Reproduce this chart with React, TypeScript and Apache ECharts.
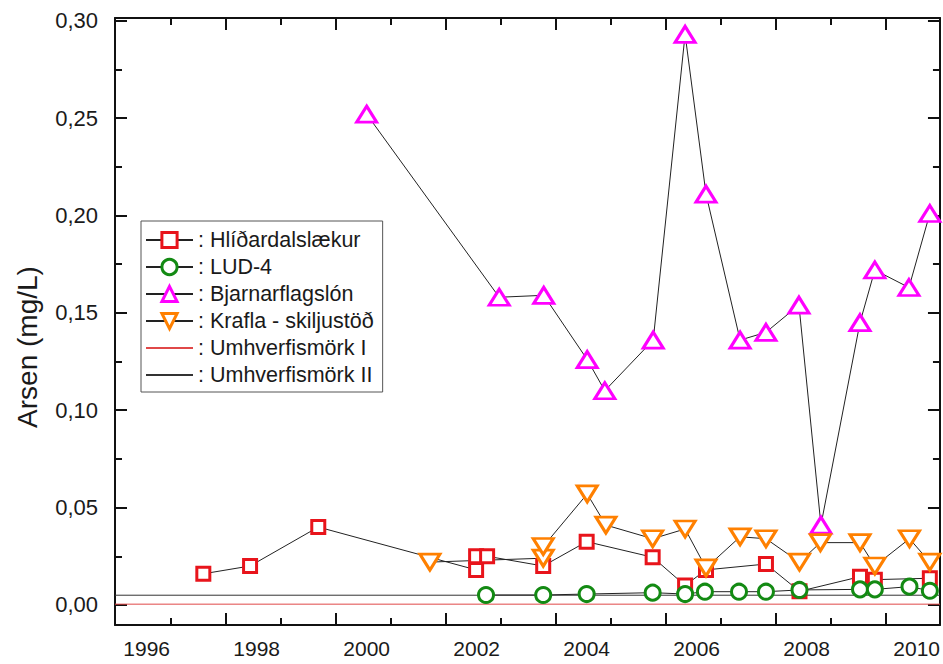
import React, { useEffect, useRef } from 'react';
import * as echarts from 'echarts';

const FONT = '"Liberation Sans", Arial, Helvetica, sans-serif';

// Axis extents (x expressed in decimal years)
const X_MIN = 1995.424;
const X_MAX = 2010.424;
const Y_MIN = -0.0103;
const Y_MAX = 0.3014;

// Tick labels and tick positions
const yearLabels = [1996, 1998, 2000, 2002, 2004, 2006, 2008, 2010];
const xMajorTicks = [1997.44, 1999.44, 2001.44, 2003.44, 2005.44, 2007.44, 2009.44];
const xMinorTicks = [1996.44, 1998.44, 2000.44, 2002.44, 2004.44, 2006.44, 2008.44];
const yLabels = [0, 0.05, 0.1, 0.15, 0.2, 0.25, 0.3];
const yMinorTicks = [0.025, 0.075, 0.125, 0.175, 0.225, 0.275];

// Series names
const seriesNames = [
  'Hlíðardalslækur',
  'LUD-4',
  'Bjarnarflagslón',
  'Krafla - skiljustöð',
  'Umhverfismörk I',
  'Umhverfismörk II',
];

// Hlíðardalslækur
const hlidYears = [1997.03, 1997.88, 1999.12, 2001.99, 2001.99, 2002.19, 2003.21, 2004.0, 2005.2, 2005.79, 2006.17, 2007.26, 2007.87, 2008.97, 2009.24, 2010.24];
const hlidValues = [0.016, 0.020, 0.040, 0.018, 0.025, 0.025, 0.020, 0.0325, 0.0245, 0.010, 0.018, 0.021, 0.007, 0.0145, 0.013, 0.0137];

// LUD-4
const ludYears = [2002.17, 2003.21, 2004.0, 2005.2, 2005.79, 2006.15, 2006.77, 2007.26, 2007.87, 2008.97, 2009.24, 2009.87, 2010.24];
const ludValues = [0.0051, 0.0051, 0.0056, 0.0063, 0.0056, 0.0068, 0.0068, 0.0068, 0.0077, 0.008, 0.008, 0.0094, 0.0073];

// Bjarnarflagslón
const bjarYears = [2000.0, 2002.41, 2003.22, 2004.01, 2004.33, 2005.21, 2005.79, 2006.17, 2006.79, 2007.26, 2007.86, 2008.26, 2008.97, 2009.24, 2009.86, 2010.24];
const bjarValues = [0.252, 0.158, 0.159, 0.126, 0.110, 0.136, 0.293, 0.211, 0.136, 0.140, 0.154, 0.041, 0.145, 0.172, 0.163, 0.201];

// Krafla - skiljustöð
const kraflaYears = [2001.15, 2003.21, 2003.21, 2004.01, 2004.35, 2005.2, 2005.79, 2006.17, 2006.79, 2007.26, 2007.87, 2008.25, 2008.97, 2009.24, 2009.87, 2010.24];
const kraflaValues = [0.022, 0.024, 0.030, 0.057, 0.041, 0.034, 0.039, 0.019, 0.035, 0.034, 0.022, 0.032, 0.032, 0.020, 0.034, 0.022];

// Limits
const limitI = 0.0004;
const limitII = 0.005;

const zip = (xs: number[], ys: number[]) => xs.map((x, i) => [x, ys[i]]);

const TEXT = '#1a1a1a';
const AXIS_COLOR = '#111';

function makeX(position: 'top' | 'bottom', ticks: number[], len: number, showLine: boolean, showLabel: boolean) {
  return {
    type: 'value',
    gridIndex: 0,
    min: X_MIN,
    max: X_MAX,
    position,
    splitLine: { show: false },
    axisLine: { show: showLine, onZero: false, lineStyle: { color: AXIS_COLOR, width: 2 } },
    axisTick: { show: true, inside: true, length: len, customValues: ticks, lineStyle: { color: AXIS_COLOR, width: 2 } },
    axisLabel: showLabel
      ? {
          show: true,
          customValues: yearLabels,
          margin: 13,
          fontSize: 21,
          fontFamily: FONT,
          color: TEXT,
          formatter: (v: number) => String(Math.round(v)),
        }
      : { show: false },
  };
}

function makeY(position: 'left' | 'right', ticks: number[], len: number, showLine: boolean, showLabel: boolean) {
  return {
    type: 'value',
    gridIndex: 0,
    min: Y_MIN,
    max: Y_MAX,
    position,
    splitLine: { show: false },
    axisLine: { show: showLine, onZero: false, lineStyle: { color: AXIS_COLOR, width: 2 } },
    axisTick: { show: true, inside: true, length: len, customValues: ticks, lineStyle: { color: AXIS_COLOR, width: 2 } },
    axisLabel: showLabel
      ? {
          show: true,
          customValues: yLabels,
          margin: 17,
          fontSize: 22,
          fontFamily: FONT,
          color: TEXT,
          formatter: (v: number) => v.toFixed(2).replace('.', ','),
        }
      : { show: false },
  };
}

function markerSeries(name: string, xs: number[], ys: number[], symbol: string, size: any, color: string, rotate = 0) {
  return {
    name,
    type: 'line',
    xAxisIndex: 0,
    yAxisIndex: 0,
    data: zip(xs, ys),
    symbol,
    symbolSize: size,
    symbolRotate: rotate,
    showSymbol: true,
    showAllSymbol: true,
    clip: false,
    itemStyle: { color: '#fff', borderColor: color, borderWidth: 3 },
    lineStyle: { color: '#222', width: 1 },
    emphasis: { disabled: true },
    z: 3,
  };
}

function limitSeries(name: string, value: number, color: string) {
  return {
    name,
    type: 'line',
    xAxisIndex: 0,
    yAxisIndex: 0,
    data: [
      [X_MIN, value],
      [X_MAX, value],
    ],
    symbol: 'none',
    itemStyle: { color: 'rgba(0,0,0,0)', borderWidth: 0 },
    lineStyle: { color, width: 1 },
    emphasis: { disabled: true },
    z: 2,
  };
}

export default function App() {
  const ref = useRef<HTMLDivElement>(null);

  useEffect(() => {
    if (!ref.current) return;
    const chart = echarts.init(ref.current, undefined, { renderer: 'svg' });
    chart.setOption({
      animation: false,
      backgroundColor: '#fff',
      grid: { left: 115, right: 3, top: 18, bottom: 39, containLabel: false },
      xAxis: [
        makeX('bottom', xMajorTicks, 12, true, true),
        makeX('bottom', xMinorTicks, 7, false, false),
        makeX('top', xMajorTicks, 12, true, false),
        makeX('top', xMinorTicks, 7, false, false),
      ],
      yAxis: [
        makeY('left', yLabels, 12, true, true),
        makeY('left', yMinorTicks, 7, false, false),
        makeY('right', yLabels, 12, true, false),
        makeY('right', yMinorTicks, 7, false, false),
      ],
      legend: {
        orient: 'vertical',
        left: 141,
        top: 221,
        padding: [8, 9, 6, 4],
        itemGap: 5,
        itemWidth: 47,
        itemHeight: 19,
        borderColor: '#555',
        borderWidth: 1,
        backgroundColor: '#fff',
        selectedMode: false,
        itemStyle: { borderWidth: 3 },
        textStyle: { fontSize: 21.5, fontFamily: FONT, color: TEXT },
        formatter: (n: string) => ': ' + n,
        data: [
          seriesNames[0],
          seriesNames[1],
          seriesNames[2],
          seriesNames[3],
          { name: seriesNames[4], itemStyle: { opacity: 0 } },
          { name: seriesNames[5], itemStyle: { opacity: 0 } },
        ],
      },
      graphic: [
        {
          type: 'text',
          x: 27,
          y: 347,
          rotation: Math.PI / 2,
          style: {
            text: 'Arsen (mg/L)',
            fontSize: 28,
            fontFamily: FONT,
            fill: TEXT,
            align: 'center',
            verticalAlign: 'middle',
          },
        },
      ],
      series: [
        limitSeries(seriesNames[4], limitI, '#e04848'),
        limitSeries(seriesNames[5], limitII, '#333'),
        markerSeries(seriesNames[0], hlidYears, hlidValues, 'rect', 13, '#e8141b'),
        markerSeries(seriesNames[1], ludYears, ludValues, 'circle', 15, '#138a13'),
        markerSeries(seriesNames[2], bjarYears, bjarValues, 'triangle', [20, 16], '#ff00ff'),
        markerSeries(seriesNames[3], kraflaYears, kraflaValues, 'triangle', [20, 16], '#ff8000', 180),
      ],
    });
    return () => chart.dispose();
  }, []);

  return (
    <div
      ref={ref}
      style={{ position: 'absolute', left: 0, top: 0, width: 943, height: 664, background: '#fff' }}
    />
  );
}
